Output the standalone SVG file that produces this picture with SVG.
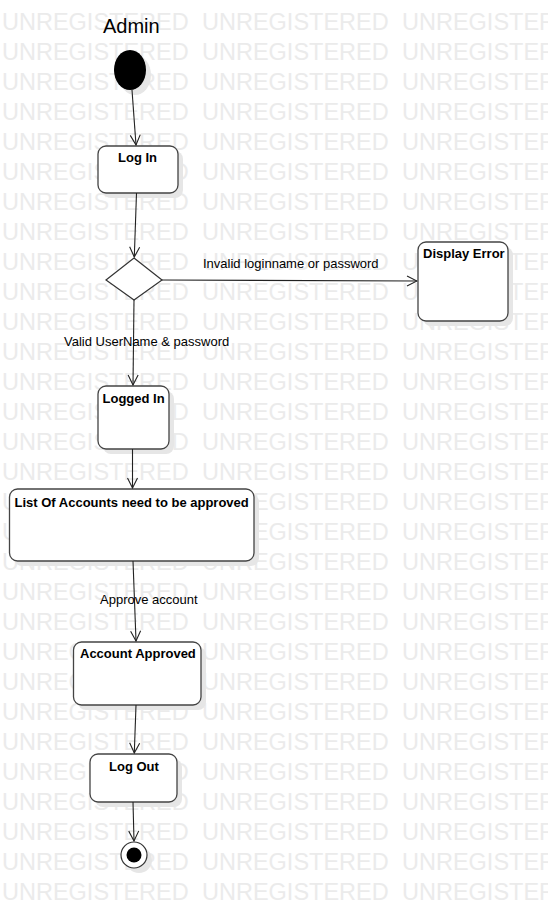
<svg xmlns="http://www.w3.org/2000/svg" xmlns:xlink="http://www.w3.org/1999/xlink" width="548" height="907" viewBox="0 0 548 907">
<style>
.wm{font-family:"Liberation Sans",Arial,sans-serif;font-size:23.5px;fill:#ebebeb}
.box{fill:#fff;stroke:#444;stroke-width:1.3}
.shadow{fill:#e6e6e6;stroke:none}
.ttl{font-family:"Liberation Sans",Arial,sans-serif;font-size:13px;font-weight:bold;fill:#000}
.lbl{font-family:"Liberation Sans",Arial,sans-serif;font-size:13px;fill:#000}
.edge{fill:none;stroke:#222;stroke-width:1.1;marker-end:url(#arr)}
</style>
<defs>
<marker id="arr" viewBox="0 0 12 12" refX="11" refY="6" markerWidth="12" markerHeight="12" markerUnits="userSpaceOnUse" orient="auto">
<path d="M1,1 L11,6 L1,11" fill="none" stroke="#222" stroke-width="1.1"/>
</marker>
<g id="wmrow">
<text class="wm" x="2" y="0">UNREGISTERED</text>
<text class="wm" x="202" y="0">UNREGISTERED</text>
<text class="wm" x="402" y="0">UNREGISTERED</text>
</g>
</defs>
<rect width="548" height="907" fill="#fff"/>
<g id="watermark">
<use xlink:href="#wmrow" y="30"/><use xlink:href="#wmrow" y="60"/><use xlink:href="#wmrow" y="90"/>
<use xlink:href="#wmrow" y="120"/><use xlink:href="#wmrow" y="150"/><use xlink:href="#wmrow" y="180"/>
<use xlink:href="#wmrow" y="210"/><use xlink:href="#wmrow" y="240"/><use xlink:href="#wmrow" y="270"/>
<use xlink:href="#wmrow" y="300"/><use xlink:href="#wmrow" y="330"/><use xlink:href="#wmrow" y="360"/>
<use xlink:href="#wmrow" y="390"/><use xlink:href="#wmrow" y="420"/><use xlink:href="#wmrow" y="450"/>
<use xlink:href="#wmrow" y="480"/><use xlink:href="#wmrow" y="510"/><use xlink:href="#wmrow" y="540"/>
<use xlink:href="#wmrow" y="570"/><use xlink:href="#wmrow" y="600"/><use xlink:href="#wmrow" y="630"/>
<use xlink:href="#wmrow" y="660"/><use xlink:href="#wmrow" y="690"/><use xlink:href="#wmrow" y="720"/>
<use xlink:href="#wmrow" y="750"/><use xlink:href="#wmrow" y="780"/><use xlink:href="#wmrow" y="810"/>
<use xlink:href="#wmrow" y="840"/><use xlink:href="#wmrow" y="870"/><use xlink:href="#wmrow" y="900"/>
</g>
<text id="title" x="103" y="33" style="font-family:'Liberation Sans',Arial,sans-serif;font-size:20px;fill:#000">Admin</text>
<g id="start">
<ellipse cx="135" cy="75" rx="16" ry="20" class="shadow"/>
<ellipse cx="130" cy="70" rx="16" ry="20" fill="#000"/>
</g>
<g id="login">
<rect x="103" y="151" width="80" height="47" rx="8" class="shadow"/>
<rect x="98" y="146" width="80" height="47" rx="8" class="box"/>
<text x="118" y="162" class="ttl">Log In</text>
</g>
<g id="decision">
<polygon points="134,258 162,280 134,300 106,280" fill="#fff" stroke="#333" stroke-width="1.2"/>
</g>
<g id="displayError">
<rect x="423" y="247" width="90" height="79" rx="8" class="shadow"/>
<rect x="418" y="242" width="90" height="79" rx="8" class="box"/>
<text x="423" y="258" class="ttl">Display Error</text>
</g>
<g id="loggedIn">
<rect x="103" y="391" width="71" height="63" rx="8" class="shadow"/>
<rect x="98" y="386" width="71" height="63" rx="8" class="box"/>
<text x="102.5" y="403" class="ttl">Logged In</text>
</g>
<g id="listAccounts">
<rect x="14" y="494" width="245" height="72" rx="8" class="shadow"/>
<rect x="9.5" y="489" width="244.5" height="72" rx="8" class="box"/>
<text x="14.5" y="507" class="ttl">List Of Accounts need to be approved</text>
</g>
<g id="accountApproved">
<rect x="78" y="647" width="128" height="63" rx="8" class="shadow"/>
<rect x="73.5" y="642" width="127.5" height="63" rx="8" class="box"/>
<text x="80" y="658" class="ttl">Account Approved</text>
</g>
<g id="logout">
<rect x="95" y="759" width="87" height="48" rx="8" class="shadow"/>
<rect x="90" y="754" width="87" height="48" rx="8" class="box"/>
<text x="109" y="771" class="ttl">Log Out</text>
</g>
<g id="end">
<circle cx="139" cy="860" r="13" class="shadow"/>
<circle cx="134" cy="855" r="13" fill="#fff" stroke="#333" stroke-width="1.2"/>
<circle cx="134" cy="855" r="7.5" fill="#000"/>
</g>
<g id="connectors">
<path class="edge" d="M132,90 L136,145"/>
<path class="edge" d="M136.5,193 L134.3,257"/>
<path class="edge" d="M162,280 L417,281"/>
<path class="edge" d="M134,300 L133,385"/>
<path class="edge" d="M132.5,449 L132.5,488"/>
<path class="edge" d="M133,561 L136,641"/>
<path class="edge" d="M136,705 L134.3,753"/>
<path class="edge" d="M133,802 L134,841"/>
<text x="203" y="268" class="lbl">Invalid loginname or password</text>
<text x="64" y="346" class="lbl">Valid UserName &amp; password</text>
<text x="100" y="604" class="lbl">Approve account</text>
</g>
</svg>
